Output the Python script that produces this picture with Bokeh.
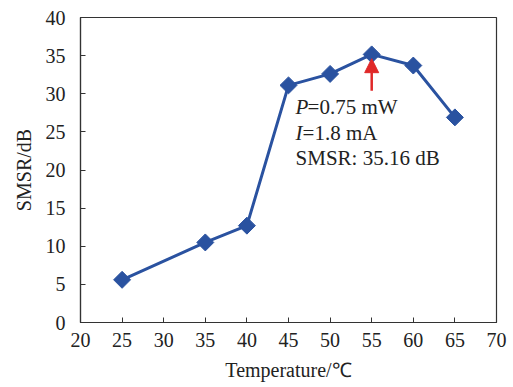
from bokeh.plotting import figure
from bokeh.models import Range1d, FixedTicker, Label, Arrow, NormalHead
from bokeh.embed import file_html
from bokeh.resources import INLINE
import math

temperature = [25, 35, 40, 45, 50, 55, 60, 65]
smsr = [5.6, 10.5, 12.7, 31.1, 32.6, 35.16, 33.7, 26.9]
x_ticks = [20, 25, 30, 35, 40, 45, 50, 55, 60, 65, 70]
y_ticks = [0, 5, 10, 15, 20, 25, 30, 35, 40]

BLUE = "#2a52a0"
RED = "#e02828"
FONT = "Liberation Serif"

p = figure(width=513, height=387, output_backend="svg", toolbar_location=None,
           x_range=Range1d(20, 70), y_range=Range1d(0, 40),
           min_border_left=80, min_border_right=17, min_border_top=17, min_border_bottom=65)

p.xgrid.visible = False
p.ygrid.visible = False
p.outline_line_color = "#333333"
p.outline_line_width = 1.2
p.background_fill_color = "white"
p.border_fill_color = "white"

for ax, ticks in ((p.xaxis[0], x_ticks), (p.yaxis[0], y_ticks)):
    ax.ticker = FixedTicker(ticks=ticks)
    ax.minor_tick_line_color = None
    ax.major_tick_in = 5
    ax.major_tick_out = 0
    ax.major_tick_line_color = "#333333"
    ax.axis_line_color = "#333333"
    ax.axis_line_width = 1.2
    ax.major_label_text_font = FONT
    ax.major_label_text_font_size = "20px"
    ax.major_label_text_color = "#222222"
    ax.axis_label_text_font = FONT
    ax.axis_label_text_font_size = "20px"
    ax.axis_label_text_font_style = "normal"
    ax.axis_label_text_color = "#222222"

p.xaxis.axis_label = "Temperature/℃"
p.yaxis.axis_label = "SMSR/dB"
p.xaxis.major_label_standoff = 10
p.xaxis.axis_label_standoff = 9
p.yaxis.major_label_standoff = 15
p.yaxis.axis_label_standoff = 8

p.line(temperature, smsr, line_color=BLUE, line_width=3)
p.scatter(temperature, smsr, marker="square", size=12, angle=math.pi / 4,
          fill_color=BLUE, line_color=BLUE)

p.add_layout(Arrow(x_start=55, y_start=30.4, x_end=55, y_end=34.6,
                   line_color=RED, line_width=2.5,
                   end=NormalHead(size=14, fill_color=RED, line_color=RED)))

ann_x = 45.85
lines = [("P", "=0.75 mW", 28.2, 12), ("I", "=1.8 mA", 24.9, 7), ("", "SMSR: 35.16 dB", 21.6, 0)]
for ital, rest, yy, off in lines:
    if ital:
        p.add_layout(Label(x=ann_x, y=yy, text=ital, text_font=FONT, text_font_size="21px",
                           text_font_style="italic", text_color="#222222", text_baseline="middle"))
    p.add_layout(Label(x=ann_x, y=yy, x_offset=off, text=rest, text_font=FONT, text_font_size="21px",
                       text_color="#222222", text_baseline="middle"))

open("out.html", "w").write(file_html(p, INLINE))
